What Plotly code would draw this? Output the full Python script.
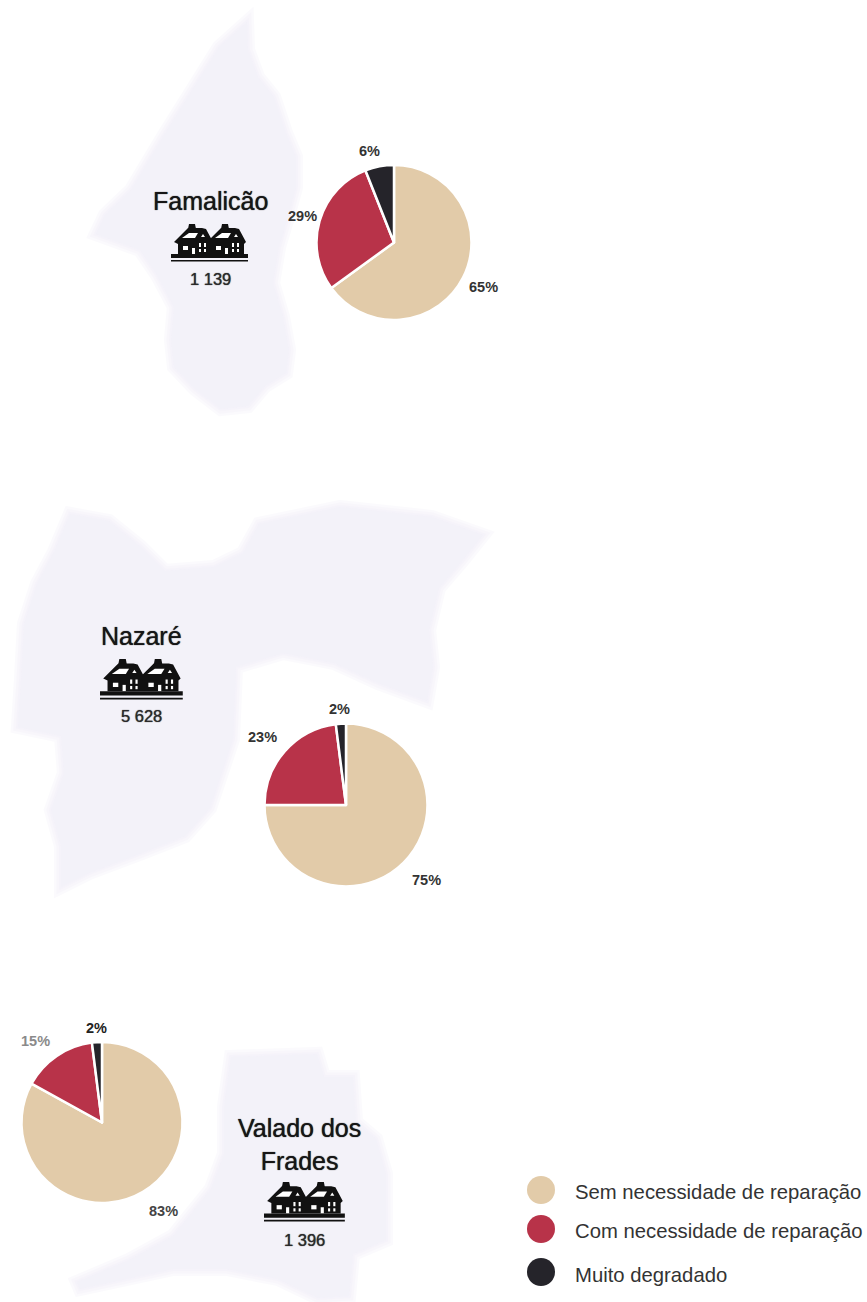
import plotly.graph_objects as go

W, H = 867, 1302
categories = ["Sem necessidade de reparação", "Com necessidade de reparação", "Muito degradado"]
colors = ["#e2cba9", "#b83349", "#25242a"]

places = ["Famalicão", "Nazaré", "Valado dos<br>Frades"]
dwellings = ["1 139", "5 628", "1 396"]
famalicao_values = [65, 29, 6]
nazare_values = [75, 23, 2]
valado_values = [83, 15, 2]

pie_geometry = [(394, 242.5, 77.5), (346, 805, 81.5), (102, 1122.5, 80.5)]
label_positions = [
    [(483, 287), (302, 216), (369, 151)],
    [(426, 880), (262, 737), (339, 709)],
    [(163, 1211), (35, 1041), (96, 1028)],
]
label_colors = [
    ["#333333", "#333333", "#333333"],
    ["#333333", "#333333", "#333333"],
    ["#444444", "#8a8a8a", "#222222"],
]
title_positions = [(210, 201), (141, 636), (299, 1144)]
count_positions = [(210, 279), (141, 716), (304, 1240)]
title_sizes = [25, 25, 25]
icon_boxes = [(171, 223, 1.0), (100, 658, 1.075), (264, 1181, 1.05)]

map_color = "#f0eef8"
map_edge_widths = [14, 9, 4, 0]
map_layer_opacity = 0.25
famalicao_map = [(247,22),(248,50),(258,77),(274,97),(286,133),(296,157),(296,187),(289,213),(279,247),
    (273,283),(283,317),(289,350),(286,373),(265,386),(248,406),(221,409),(195,389),(174,367),(171,340),
    (174,307),(157,275),(140,250),(96,234),(105,215),(131,190),(164,135),(191,92),(219,47)]
nazare_map = [(70,514),(109,521),(141,547),(165,571),(214,567),(243,553),(259,524),(340,507),(432,517),
    (483,535),(463,560),(439,588),(429,630),(433,667),(427,701),(378,683),(334,663),(283,653),(236,667),
    (233,739),(210,808),(185,836),(142,853),(89,873),(61,887),(61,846),(51,810),(64,773),(61,736),(18,727),
    (21,680),(24,624),(37,584),(54,552)]
valado_map = [(231,1057),(317,1054),(324,1077),(353,1077),(356,1122),(376,1139),(386,1174),(386,1240),
    (353,1254),(349,1296),(318,1298),(278,1279),(227,1269),(173,1269),(80,1289),(77,1282),(129,1260),
    (173,1236),(211,1189),(224,1154),(224,1107)]

legend_x = [541, 541, 541]
legend_y = [1190, 1229, 1272]
legend_text_y = [1192, 1231, 1275]

FONT = "Liberation Sans, Arial, sans-serif"
all_values = [famalicao_values, nazare_values, valado_values]


def poly(points):
    return "M" + " L".join(f"{x:.2f},{y:.2f}" for x, y in points) + " Z"


def shape(points, fill, layer="below"):
    return dict(type="path", xref="x", yref="y", path=poly(points), fillcolor=fill,
                line=dict(width=0), layer=layer)


def soft_map(points):
    out = []
    for w in map_edge_widths:
        s = shape(points, map_color)
        s["line"] = dict(width=w, color=map_color)
        s["opacity"] = map_layer_opacity
        out.append(s)
    return out


def house_icon(x0, y0, s):
    out = []

    def p(pts, fill):
        out.append(shape([(x0 + a * s, y0 + b * s) for a, b in pts], fill, "above"))

    for dx in (0, 33):
        p([(17+dx,6),(18+dx,1),(24+dx,1),(25+dx,6)], "#111111")
        p([(3+dx,19),(17+dx,5),(31+dx,5),(35+dx,6),(42+dx,19),(40+dx,21),(40+dx,31),(7+dx,31),(7+dx,21)], "#111111")
        p([(11+dx,15),(18+dx,10),(27+dx,10),(24+dx,15)], "#ffffff")
        p([(12+dx,23),(17+dx,23),(17+dx,27),(12+dx,27)], "#ffffff")
        p([(21+dx,25),(24+dx,25),(24+dx,31),(21+dx,31)], "#ffffff")
        p([(30+dx,14),(32+dx,11),(34+dx,14)], "#ffffff")
        p([(28+dx,20),(30+dx,20),(30+dx,24),(28+dx,24)], "#ffffff")
        p([(28+dx,26),(30+dx,26),(30+dx,29),(28+dx,29)], "#ffffff")
        p([(33+dx,20),(35+dx,20),(35+dx,24),(33+dx,24)], "#ffffff")
        p([(33+dx,26),(35+dx,26),(35+dx,29),(33+dx,29)], "#ffffff")
    p([(0,31),(77,31),(77,35),(0,35)], "#111111")
    p([(0,37),(77,37),(77,38.5),(0,38.5)], "#111111")
    return out


fig = go.Figure()

for values, (cx, cy, r) in zip(all_values, pie_geometry):
    fig.add_trace(go.Pie(
        values=values, labels=categories, sort=False, direction="clockwise", rotation=0,
        marker=dict(colors=colors, line=dict(color="#ffffff", width=2.5)),
        textinfo="none", hoverinfo="label+percent", showlegend=False,
        domain=dict(x=[(cx - r) / W, (cx + r) / W], y=[1 - (cy + r) / H, 1 - (cy - r) / H]),
    ))

fig.add_trace(go.Scatter(
    x=legend_x, y=legend_y, mode="markers", showlegend=False, hoverinfo="skip",
    marker=dict(size=28, color=colors, line=dict(width=0)),
))

annotations = []


def note(x, y, text, size, color="#1a1a1a", anchor="center", shadow="none"):
    annotations.append(dict(x=x, y=y, xref="x", yref="y", text=text, showarrow=False,
                            xanchor=anchor, yanchor="middle", align="center",
                            font=dict(family=FONT, size=size, color=color, shadow=shadow)))


for values, positions, cols in zip(all_values, label_positions, label_colors):
    for v, (x, y), c in zip(values, positions, cols):
        note(x, y, f"<b>{v}%</b>", 14.5, c)
for name, (x, y), size in zip(places, title_positions, title_sizes):
    note(x, y, name, size, "#161616", shadow="0px 0px 1px #161616")
for count, (x, y) in zip(dwellings, count_positions):
    note(x, y, count, 16.5, "#2a2a2a", shadow="0px 0px 1px #2a2a2a")
for name, x, y in zip(categories, legend_x, legend_text_y):
    note(x + 32, y, name, 20.3, "#333333", "left")

shapes = []
for m in (famalicao_map, nazare_map, valado_map):
    shapes += soft_map(m)
for x0, y0, s in icon_boxes:
    shapes += house_icon(x0, y0, s)

fig.update_layout(
    width=W, height=H, margin=dict(l=0, r=0, t=0, b=0),
    paper_bgcolor="#ffffff", plot_bgcolor="rgba(0,0,0,0)",
    xaxis=dict(visible=False, range=[0, W], fixedrange=True),
    yaxis=dict(visible=False, range=[H, 0], fixedrange=True),
    shapes=shapes, annotations=annotations, font=dict(family=FONT),
)

fig.write_html("out.html", post_script="document.body.style.margin='0';",
               config=dict(displayModeBar=False))
